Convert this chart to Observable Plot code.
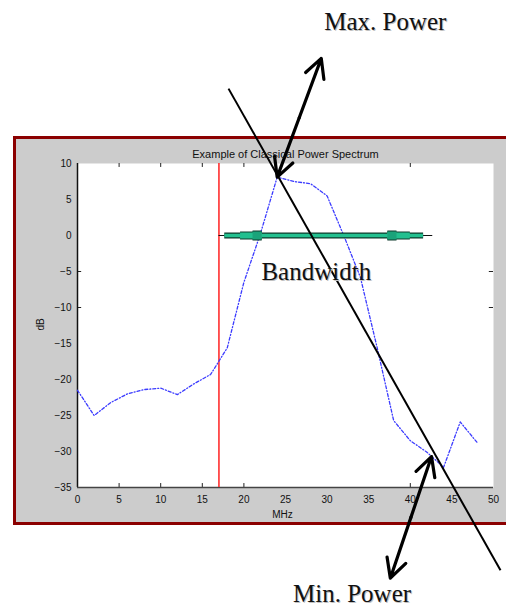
<!DOCTYPE html>
<html>
<head>
<meta charset="utf-8">
<script src="https://cdn.jsdelivr.net/npm/d3@7"></script>
<script src="https://cdn.jsdelivr.net/npm/@observablehq/plot@0.6"></script>
<style>
  html, body { margin: 0; padding: 0; background: #fff; }
  #wrap { position: relative; width: 506px; height: 610px; overflow: hidden; }
  #panel { position: absolute; left: 13px; top: 136px; width: 520px; height: 389px;
           box-sizing: border-box; background: #cccccc; border: 3px solid #8b0000; }
  #chart { position: absolute; left: 0; top: 0; }
</style>
</head>
<body>
<div id="wrap"><div id="panel"></div><div id="chart"></div></div>
<script>
// Power spectrum samples (frequency in MHz, power in dB)
const freqMHz = [0, 2, 4, 6, 8, 10, 12, 14, 16, 18, 20, 22, 24, 26, 28, 30, 32, 34, 36, 38, 40, 42, 44, 46, 48];
const powerDb = [-21.5, -25, -23.2, -22, -21.4, -21.2, -22.1, -20.6, -19.3, -15.6, -6.5, 0.3, 8.1, 7.5, 7.2, 5.5, 0, -5.8, -15.5, -25.7, -28.5, -30.1, -32.2, -25.9, -28.7];

// Axis ticks
const xTicks = [0, 5, 10, 15, 20, 25, 30, 35, 40, 45, 50];
const yTicks = [10, 5, 0, -5, -10, -15, -20, -25, -30, -35];
const xInnerTicks = [5, 10, 15, 20, 40];
const yInnerTicks = [-5, -10];

// Annotations
const titleText = "Example of Classical Power Spectrum";
const cutoffMHz = 17;
const bandwidthLevelDb = 0;
const bandwidthSpan = [17, 42.7];
const bandwidthBody = [17.7, 41.6];
const bandwidthBlocks = [[19.6, 22.2], [37.3, 40.0]];
const bandwidthTabs = [[21.1, 22.2], [37.3, 38.4]];
const slopeLine = { x1: 18.15, y1: 20.4, x2: 50.84, y2: -46.5 };
const minPowerTip = { x: 42.55, y: -30.7 };
const maxArrowEnd = { x: 29.3, y: 24.6 };
const minArrowEnd = { x: 37.6, y: -47.6 };
const labels = [
  { text: "Max. Power", x: 37.0, y: 29.6 },
  { text: "Bandwidth", x: 28.7, y: -5.0 },
  { text: "Min. Power", x: 33.0, y: -49.8 }
];

const spectrum = freqMHz.map((f, i) => ({ f, db: powerDb[i] }));
const peak = d3.greatest(spectrum, d => d.db);

// double-headed arrow as two arrows from the middle outward
function doubleArrow(a, b) {
  const m = { x: (a.x + b.x) / 2, y: (a.y + b.y) / 2 };
  return [
    { x1: m.x, y1: m.y, x2: a.x, y2: a.y },
    { x1: m.x, y1: m.y, x2: b.x, y2: b.y }
  ];
}
const arrows = [
  ...doubleArrow({ x: peak.f, y: peak.db }, maxArrowEnd),
  ...doubleArrow(minPowerTip, minArrowEnd)
];

const green = "#22c08f", darkGreen = "#0e3b2c";
const segs = (pairs) => pairs.map(([a, b]) => ({ a, b }));
const serif = "'Liberation Serif', 'Times New Roman', serif";

const chart = Plot.plot({
  width: 506,
  height: 610,
  marginLeft: 77,
  marginRight: 13,
  marginTop: 163,
  marginBottom: 123,
  x: { domain: [0, 50] },
  y: { domain: [-35, 10] },
  style: { background: "transparent", fontFamily: "'Liberation Sans', Arial, sans-serif", overflow: "visible" },
  marks: [
    Plot.frame({ fill: "white", stroke: "none" }),
    Plot.axisX(xTicks, { tickSize: 0, tickPadding: 8, fontSize: 10, label: null, fill: "#111" }),
    Plot.axisY(yTicks, { tickSize: 0, tickPadding: 6, fontSize: 10, label: null, fill: "#111" }),
    // inward tick marks
    Plot.ruleX(xInnerTicks, { y1: 10, y2: 9.45, stroke: "#222" }),
    Plot.ruleX(xInnerTicks, { y1: -35, y2: -34.45, stroke: "#222" }),
    Plot.ruleY(yInnerTicks, { x1: 0, x2: 0.5, stroke: "#222" }),
    Plot.ruleY(yInnerTicks, { x1: 49.5, x2: 50, stroke: "#222" }),
    // axis lines
    Plot.ruleX([0], { stroke: "#111", strokeWidth: 1.5 }),
    Plot.ruleY([-35], { stroke: "#444", strokeWidth: 1.5 }),
    // cutoff line
    Plot.ruleX([cutoffMHz], { stroke: "#ff2020", strokeWidth: 1.5 }),
    // spectrum
    Plot.line(spectrum, { x: "f", y: "db", stroke: "#3b3bff", strokeWidth: 1.3, strokeDasharray: "3 2 1 2" }),
    // bandwidth double arrow
    Plot.ruleY([bandwidthLevelDb], { x1: bandwidthSpan[0], x2: bandwidthSpan[1], stroke: "#111", strokeWidth: 1 }),
    Plot.ruleY([bandwidthLevelDb], { x1: bandwidthBody[0], x2: bandwidthBody[1], stroke: darkGreen, strokeWidth: 6 }),
    Plot.ruleY(segs(bandwidthBlocks), { y: () => bandwidthLevelDb, x1: "a", x2: "b", stroke: darkGreen, strokeWidth: 8 }),
    Plot.ruleY(segs(bandwidthTabs), { y: () => bandwidthLevelDb, x1: "a", x2: "b", stroke: darkGreen, strokeWidth: 10 }),
    Plot.ruleY([bandwidthLevelDb], { x1: bandwidthBody[0], x2: bandwidthBody[1], stroke: green, strokeWidth: 3.5 }),
    Plot.ruleY(segs(bandwidthBlocks), { y: () => bandwidthLevelDb, x1: "a", x2: "b", stroke: green, strokeWidth: 6 }),
    Plot.ruleY(segs(bandwidthTabs), { y: () => bandwidthLevelDb, x1: "a", x2: "b", stroke: "#1aa37a", strokeWidth: 8 }),
    // slope line and power arrows
    Plot.link([slopeLine], { x1: "x1", y1: "y1", x2: "x2", y2: "y2", stroke: "#000", strokeWidth: 2 }),
    Plot.arrow(arrows, { x1: "x1", y1: "y1", x2: "x2", y2: "y2", stroke: "#000", strokeWidth: 3.2, headLength: 16, headAngle: 55 }),
    // titles
    Plot.text([titleText], { frameAnchor: "top", dy: -13, fontSize: 11, fill: "#111" }),
    Plot.text(["dB"], { frameAnchor: "left", dx: -37, dy: 5, rotate: -90, fontSize: 10, fill: "#111" }),
    Plot.text(["MHz"], { frameAnchor: "bottom", dy: 30, dx: -3, fontSize: 10, fill: "#111" }),
    // annotation labels with a soft shadow
    Plot.text(labels, { x: "x", y: "y", text: "text", fontFamily: serif, fontSize: 25, fill: "#c0c0c0", dx: 1, dy: 1 }),
    Plot.text(labels, { x: "x", y: "y", text: "text", fontFamily: serif, fontSize: 25, fill: "#111" })
  ]
});

document.getElementById("chart").append(chart);
</script>
</body>
</html>
